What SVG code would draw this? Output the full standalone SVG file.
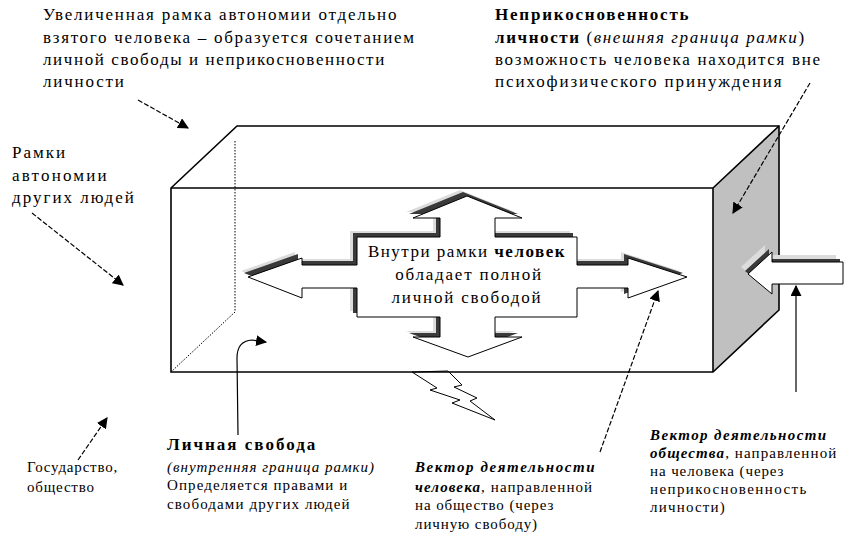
<svg xmlns="http://www.w3.org/2000/svg" width="858" height="547" viewBox="0 0 858 547">
<style>
.edge { fill: none; stroke: #000; stroke-width: 1.6; }
.thin { fill: none; stroke: #000; stroke-width: 1; }
.dot { fill: none; stroke: #000; stroke-width: 1; stroke-dasharray: 1.5 1.5; }
.dash { fill: none; stroke: #000; stroke-width: 1.2; stroke-dasharray: 5 2; marker-end: url(#ah); }
.solid { fill: none; stroke: #000; stroke-width: 1.2; marker-end: url(#ah); }
.shl { fill: #dcdcdc; }
.shd { fill: #3a3a3a; }
.arr { fill: #fff; stroke: #000; stroke-width: 1; }
</style>
<defs>
<marker id="ah" viewBox="0 0 10 10" refX="9" refY="5" markerWidth="11" markerHeight="11" markerUnits="userSpaceOnUse" orient="auto">
<path d="M0,0 L10,5 L0,10 Z" fill="#000"/>
</marker>
<path id="cross" d="M467,196 L522,218 L495,218 L495,237 L577,237 L577,265 L628,265 L628,258 L687,277 L628,298 L628,288 L577,288 L577,317 L495,317 L495,337 L522,337 L468,357 L413,337 L440,337 L440,317 L357,317 L357,288 L302,288 L302,298 L248,277 L302,258 L302,265 L357,265 L357,237 L440,237 L440,218 L413,218 Z"/>
<path id="push" d="M748,274 L772,252 L772,262 L843,262 L843,284 L772,284 L772,294 Z"/>
</defs>

<g id="box">
<polygon points="171,188 237,126 779,126 713,188" fill="#fff" stroke="none"/>
<rect x="171" y="188" width="542" height="184" fill="#fff"/>
<polygon points="713,188 779,126 779,310 713,372" fill="#c0c0c0"/>
<path class="dot" d="M235,141 L235,312 L171,372"/>
<path class="edge" d="M171,188 L237,126 L779,126 L779,310 L713,372 L171,372 Z"/>
<path class="edge" d="M171,188 L713,188 L713,372 M713,188 L779,126"/>
</g>

<g id="lightning">
<polygon class="thin" fill="#fff" points="412,372 448,371 462,385 454,387 477,398 470,401 495,420 452,403 460,400 430,390 437,388"/>
</g>

<g id="center-node">
<use href="#cross" class="shl" transform="translate(-7,-6)"/>
<use href="#cross" class="shd" transform="translate(-4,-4)"/>
<use href="#cross" class="arr"/>
<text font-family="Liberation Serif, serif" font-size="17" letter-spacing="1.5" x="467" y="257" text-anchor="middle">Внутри рамки <tspan font-weight="bold">человек</tspan></text>
<text font-family="Liberation Serif, serif" font-size="17" letter-spacing="1.8" x="469" y="280" text-anchor="middle">обладает полной</text>
<text font-family="Liberation Serif, serif" font-size="17" letter-spacing="1.8" x="467" y="303" text-anchor="middle">личной свободой</text>
</g>

<g id="push-arrow">
<use href="#push" class="shl" transform="translate(-7,-7)"/>
<use href="#push" class="shd" transform="translate(-3,-3)"/>
<use href="#push" class="arr"/>
</g>

<g id="connectors">
<path class="dash" d="M138,100 L188,128"/>
<path class="dash" d="M32,213 L123,285"/>
<path class="dash" d="M78,460 L107,418"/>
<path class="solid" d="M238,435 L237,358 Q237,341 252,340 L266,342"/>
<path class="dash" d="M600,452 L658,291"/>
<path class="dash" d="M810,83 L733,213"/>
<path class="solid" d="M796,392 L796,286"/>
</g>

<g id="label-enlarged">
<text font-family="Liberation Serif, serif" font-size="17" letter-spacing="1.8" x="43" y="20">Увеличенная рамка автономии отдельно</text>
<text font-family="Liberation Serif, serif" font-size="17" letter-spacing="1.7" x="43" y="43">взятого человека – образуется сочетанием</text>
<text font-family="Liberation Serif, serif" font-size="17" letter-spacing="1.6" x="43" y="65">личной свободы и неприкосновенности</text>
<text font-family="Liberation Serif, serif" font-size="17" letter-spacing="1.8" x="43" y="87">личности</text>
</g>

<g id="label-inviolability">
<text font-family="Liberation Serif, serif" font-size="17" font-weight="bold" letter-spacing="1.8" x="495" y="20">Неприкосновенность</text>
<text font-family="Liberation Serif, serif" font-size="17" letter-spacing="1.6" x="495" y="43"><tspan font-weight="bold">личности</tspan> (<tspan font-style="italic">внешняя граница рамки</tspan>)</text>
<text font-family="Liberation Serif, serif" font-size="17" letter-spacing="1.7" x="495" y="65">возможность человека находится вне</text>
<text font-family="Liberation Serif, serif" font-size="17" letter-spacing="1.9" x="495" y="87">психофизического принуждения</text>
</g>

<g id="label-others">
<text font-family="Liberation Serif, serif" font-size="17" letter-spacing="2" x="12" y="158">Рамки</text>
<text font-family="Liberation Serif, serif" font-size="17" letter-spacing="2.2" x="12" y="181">автономии</text>
<text font-family="Liberation Serif, serif" font-size="17" letter-spacing="2" x="12" y="203">других людей</text>
</g>

<g id="label-state">
<text font-family="Liberation Serif, serif" font-size="15" letter-spacing="0.8" x="27" y="472">Государство,</text>
<text font-family="Liberation Serif, serif" font-size="15" letter-spacing="0.8" x="27" y="492">общество</text>
</g>

<g id="label-freedom">
<text font-family="Liberation Serif, serif" font-size="17" font-weight="bold" letter-spacing="2" x="167" y="450">Личная свобода</text>
<text font-family="Liberation Serif, serif" font-size="15" font-style="italic" letter-spacing="1" x="167" y="472">(внутренняя граница рамки)</text>
<text font-family="Liberation Serif, serif" font-size="15" letter-spacing="1.1" x="167" y="490">Определяется правами и</text>
<text font-family="Liberation Serif, serif" font-size="15" letter-spacing="1.1" x="167" y="509">свободами других людей</text>
</g>

<g id="label-vector-person">
<text font-family="Liberation Serif, serif" font-size="15" font-weight="bold" font-style="italic" letter-spacing="1.6" x="415" y="472">Вектор деятельности</text>
<text font-family="Liberation Serif, serif" font-size="15" letter-spacing="1.1" x="415" y="492"><tspan font-weight="bold" font-style="italic">человека</tspan>, направленной</text>
<text font-family="Liberation Serif, serif" font-size="15" letter-spacing="0.9" x="415" y="510">на общество (через</text>
<text font-family="Liberation Serif, serif" font-size="15" letter-spacing="0.9" x="415" y="529">личную свободу)</text>
</g>

<g id="label-vector-society">
<text font-family="Liberation Serif, serif" font-size="15" font-weight="bold" font-style="italic" letter-spacing="1.4" x="650" y="440">Вектор деятельности</text>
<text font-family="Liberation Serif, serif" font-size="15" letter-spacing="1.1" x="650" y="458"><tspan font-weight="bold" font-style="italic">общества</tspan>, направленной</text>
<text font-family="Liberation Serif, serif" font-size="15" letter-spacing="0.9" x="650" y="476">на человека (через</text>
<text font-family="Liberation Serif, serif" font-size="15" letter-spacing="1.4" x="650" y="494">неприкосновенность</text>
<text font-family="Liberation Serif, serif" font-size="15" letter-spacing="1.2" x="650" y="512">личности)</text>
</g>
</svg>
